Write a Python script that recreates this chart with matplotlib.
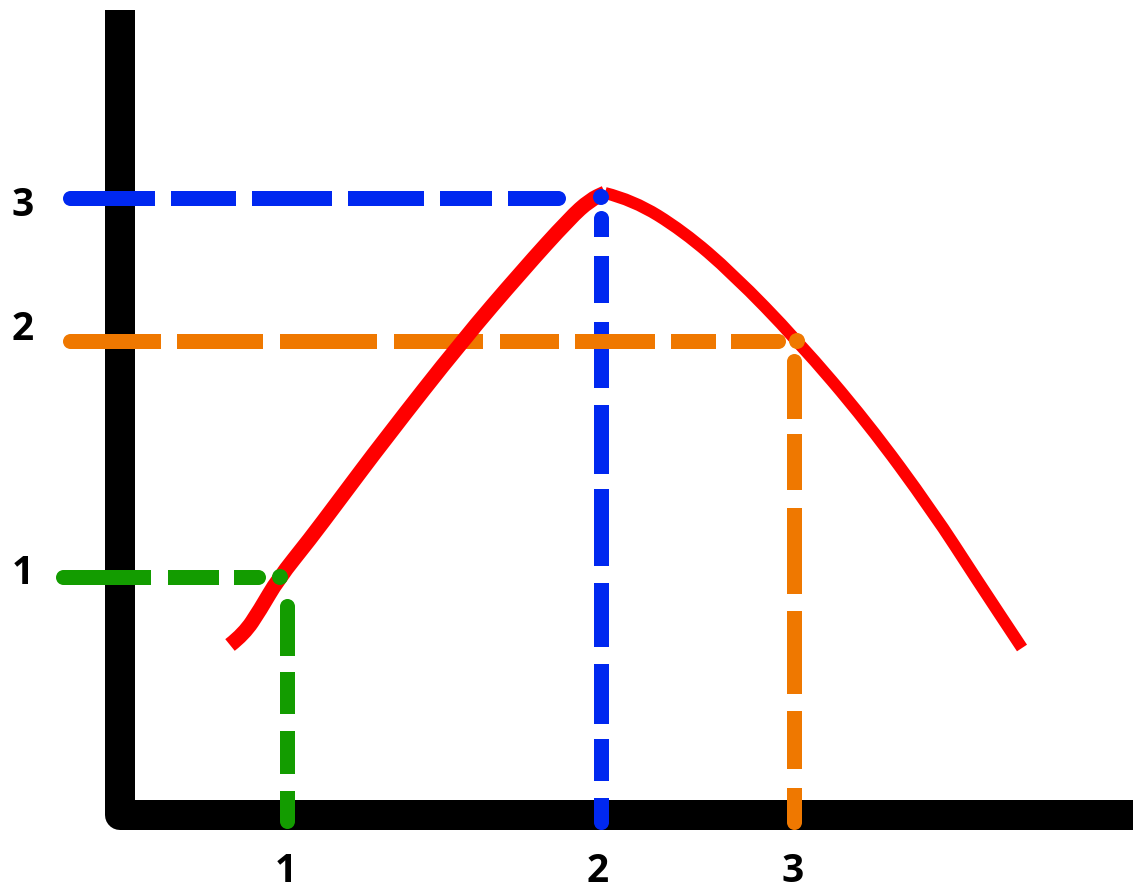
import matplotlib
matplotlib.use("Agg")
import matplotlib.pyplot as plt
from matplotlib.path import Path
from matplotlib.patches import PathPatch

# all positions in the chart's own units, origin at the axis corner
DPI = 100

# red curve
curve_left_x = [110, 124, 140, 158, 190, 217, 265, 342, 402, 450, 470, 485]
curve_left_y = [170, 181, 205, 236, 276, 312, 376, 474, 544, 597, 615, 622]
curve_right_x = [485, 513, 563, 613, 677, 747, 813, 857, 902]
curve_right_y = [622, 615, 584, 541, 475, 393, 303, 235, 167]

# the three marked points on the curve
point_x = [160, 481, 677]
point_y = [238, 618, 474]
point_colors = ["#139c00", "#0028f0", "#ef7800"]

# guide lines: where each dashed line starts and stops
hline_y = [238, 617, 474]
hline_from = [-65, -58, -58]
hline_to = [145, 445, 665]
vline_x = [167, 481, 674]
vline_from = [217, 605, 462]
vline_to = [-13, -14, -14]

# tick labels
xtick_pos = [166, 478, 673]
xtick_labels = ["1", "2", "3"]
ytick_pos = [241, 486, 609]
ytick_labels = ["1", "2", "3"]

axis_top = 805
axis_right = 1013

# hand drawn dash lengths (on, off, on, ...) in pixels
h_dashes = [
    [95, 17, 51, 15, 32],
    [92, 16, 65, 16, 80, 16, 76, 16, 52, 16, 58],
    [98, 16, 86, 17, 97, 17, 89, 17, 59, 16, 80, 16, 45, 15, 55],
]
v_dashes = [
    [57, 16, 42, 17, 43, 17, 38],
    [26, 19, 47, 19, 66, 17, 69, 15, 77, 17, 64, 17, 60, 15, 42, 17, 32],
    [65, 15, 56, 18, 86, 17, 83, 17, 58, 19, 42],
]


def px(v):
    return v * 72.0 / DPI


def guide(ax, x0, y0, x1, y1, pattern, color, lw=15):
    # dashed line with butt dashes but rounded outer ends
    cap = lw / 2.0
    length = ((x1 - x0) ** 2 + (y1 - y0) ** 2) ** 0.5
    ux, uy = (x1 - x0) / length, (y1 - y0) / length
    sx, sy = x0 + ux * cap, y0 + uy * cap
    ex, ey = x1 - ux * cap, y1 - uy * cap
    seq = list(pattern)
    seq[0] = seq[0] - cap
    seq.append(200)
    ax.plot([sx, ex], [sy, ey], color=color, lw=px(lw), dashes=[px(v) for v in seq],
            dash_capstyle="butt", zorder=2, clip_on=False)
    ax.plot([sx, ex], [sy, ey], ls="none", marker="o", ms=px(lw), mew=0,
            color=color, zorder=2, clip_on=False)


def smooth(xs, ys):
    verts = [(xs[0], ys[0])]
    codes = [Path.MOVETO]
    for i in range(1, len(xs) - 1):
        verts.append((xs[i], ys[i]))
        verts.append(((xs[i] + xs[i + 1]) / 2.0, (ys[i] + ys[i + 1]) / 2.0))
        codes += [Path.CURVE3, Path.CURVE3]
    verts.append((xs[-1], ys[-1]))
    codes.append(Path.LINETO)
    return Path(verts, codes)


plt.rcParams["lines.scale_dashes"] = False

fig = plt.figure(figsize=(11.39, 8.90), dpi=DPI)
ax = fig.add_axes([0, 0, 1, 1])
ax.set_xlim(-120, 1019)
ax.set_ylim(-75, 815)
ax.axis("off")

# the L shaped axes
ax.plot([0, 0, axis_right], [axis_top, 0, 0], color="black", lw=px(30),
        solid_joinstyle="round", solid_capstyle="butt", zorder=1)

for i in range(3):
    guide(ax, hline_from[i], hline_y[i], hline_to[i], hline_y[i], h_dashes[i], point_colors[i])
    guide(ax, vline_x[i], vline_from[i], vline_x[i], vline_to[i], v_dashes[i], point_colors[i])

# curve: the rising side is a heavier stroke than the falling side
ax.add_patch(PathPatch(smooth(curve_right_x, curve_right_y), fill=False, edgecolor="#ff0000",
                       lw=px(12), capstyle="butt", joinstyle="round", zorder=3))
ax.add_patch(PathPatch(smooth(curve_left_x, curve_left_y), fill=False, edgecolor="#ff0000",
                       lw=px(15), capstyle="butt", joinstyle="round", zorder=3))

ax.scatter(point_x, point_y, s=px(16) ** 2, c=point_colors, linewidths=0, zorder=4)

for xp, lab in zip(xtick_pos, xtick_labels):
    ax.text(xp, -57, lab, ha="center", va="center", fontsize=28,
            fontfamily="Open Sans", fontweight="bold")
for yp, lab in zip(ytick_pos, ytick_labels):
    ax.text(-97, yp, lab, ha="center", va="center", fontsize=28,
            fontfamily="Open Sans", fontweight="bold")

fig.savefig("out.png", dpi=DPI, facecolor="white")
